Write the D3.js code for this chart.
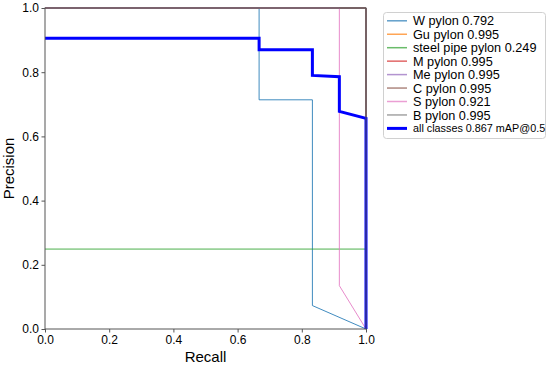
<!DOCTYPE html>
<html>
<head>
<meta charset="utf-8">
<script src="https://cdn.jsdelivr.net/npm/d3@7"></script>
<style>
  body { margin: 0; background: #fff; }
  svg { display: block; font-family: "Liberation Sans", Arial, sans-serif; }
</style>
</head>
<body>
<svg id="chart" width="549" height="368"></svg>
<script>
// ---- data ----
const classNames = ["W pylon", "Gu pylon", "steel pipe pylon", "M pylon", "Me pylon", "C pylon", "S pylon", "B pylon"];
const classAP = [0.792, 0.995, 0.249, 0.995, 0.995, 0.995, 0.921, 0.995];
const classColors = ["#1f77b4", "#ff7f0e", "#2ca02c", "#d62728", "#9467bd", "#8c564b", "#e377c2", "#7f7f7f"];

const recallW = [0, 0.667, 0.667, 0.833, 0.833, 1.0];
const precisionW = [1, 1, 0.714, 0.714, 0.073, 0];
const recallGu = [0, 1, 1];
const precisionGu = [1, 1, 0];
const recallSteel = [0, 1];
const precisionSteel = [0.249, 0.249];
const recallM = [0, 1, 1];
const precisionM = [1, 1, 0];
const recallMe = [0, 1, 1];
const precisionMe = [1, 1, 0];
const recallC = [0, 1, 1];
const precisionC = [1, 1, 0];
const recallS = [0, 0.917, 0.917, 1.0];
const precisionS = [1, 1, 0.135, 0];
const recallB = [0, 1, 1];
const precisionB = [1, 1, 0];

const recallAll = [0, 0.667, 0.667, 0.833, 0.833, 0.917, 0.917, 1.0, 1.0];
const precisionAll = [0.906, 0.906, 0.870, 0.870, 0.790, 0.786, 0.678, 0.656, 0];
const mAP = 0.867;

const axisTicks = [0, 0.2, 0.4, 0.6, 0.8, 1.0];

const classRecalls = [recallW, recallGu, recallSteel, recallM, recallMe, recallC, recallS, recallB];
const classPrecisions = [precisionW, precisionGu, precisionSteel, precisionM, precisionMe, precisionC, precisionS, precisionB];

// ---- layout ----
const svg = d3.select("#chart");
const plotLeft = 45, plotRight = 366, plotTop = 8, plotBottom = 329;
const x = d3.scaleLinear().domain([0, 1]).range([plotLeft, plotRight]);
const y = d3.scaleLinear().domain([0, 1]).range([plotBottom, plotTop]);

const line = d3.line().x(d => x(d[0])).y(d => y(d[1]));

const plot = svg.append("g");

classNames.forEach((name, i) => {
  const pts = classRecalls[i].map((r, j) => [r, classPrecisions[i][j]]);
  plot.append("path")
    .attr("d", line(pts))
    .attr("fill", "none")
    .attr("stroke", classColors[i])
    .attr("stroke-width", 1)
    .attr("opacity", 0.85);
});

plot.append("path")
  .attr("d", line(recallAll.map((r, j) => [r, precisionAll[j]])))
  .attr("fill", "none")
  .attr("stroke", "#0000ff")
  .attr("stroke-width", 3)
  .attr("stroke-linejoin", "miter");

// frame
svg.append("rect")
  .attr("x", plotLeft).attr("y", plotTop)
  .attr("width", plotRight - plotLeft).attr("height", plotBottom - plotTop)
  .attr("fill", "none").attr("stroke", "#555").attr("stroke-width", 1);

// axes
const xAxis = d3.axisBottom(x).tickValues(axisTicks).tickFormat(d3.format(".1f")).tickSizeOuter(0).tickSize(3.5).tickPadding(2.5);
const yAxis = d3.axisLeft(y).tickValues(axisTicks).tickFormat(d3.format(".1f")).tickSizeOuter(0).tickSize(3.5).tickPadding(2.5);

const gx = svg.append("g").attr("transform", `translate(0,${plotBottom})`).call(xAxis);
const gy = svg.append("g").attr("transform", `translate(${plotLeft},0)`).call(yAxis);
[gx, gy].forEach(g => {
  g.select(".domain").remove();
  g.selectAll("line").attr("stroke", "#555");
  g.selectAll("text").attr("font-size", 12).attr("fill", "#000")
    .attr("font-family", "'Liberation Sans', Arial, sans-serif");
});

svg.append("text")
  .attr("x", (plotLeft + plotRight) / 2).attr("y", 362)
  .attr("text-anchor", "middle")
  .attr("font-size", 15)
  .text("Recall");

svg.append("text")
  .attr("transform", `translate(14,${(plotTop + plotBottom) / 2}) rotate(-90)`)
  .attr("text-anchor", "middle")
  .attr("font-size", 15)
  .text("Precision");

// legend
const lg = svg.append("g");
lg.append("rect")
  .attr("x", 383.5).attr("y", 12.5)
  .attr("width", 162).attr("height", 126)
  .attr("rx", 3)
  .attr("fill", "#fff").attr("stroke", "#d0d0d0").attr("stroke-width", 1);

const rowY0 = 20.8, rowStep = 13.45;
const legendItems = classNames.map((n, i) => ({ label: `${n} ${classAP[i].toFixed(3)}`, color: classColors[i], w: 1.5, size: 12.7 }));
legendItems.push({ label: `all classes ${mAP.toFixed(3)} mAP@0.5`, color: "#0000ff", w: 3, size: 10.8 });

legendItems.forEach((it, i) => {
  const yy = rowY0 + i * rowStep;
  lg.append("line")
    .attr("x1", 387).attr("x2", 407)
    .attr("y1", yy).attr("y2", yy)
    .attr("stroke", it.color).attr("stroke-width", it.w)
    .attr("opacity", it.w > 2 ? 1 : 0.7);
  lg.append("text")
    .attr("x", 413).attr("y", yy)
    .attr("dy", "0.36em")
    .attr("font-size", it.size)
    .text(it.label);
});
</script>
</body>
</html>
